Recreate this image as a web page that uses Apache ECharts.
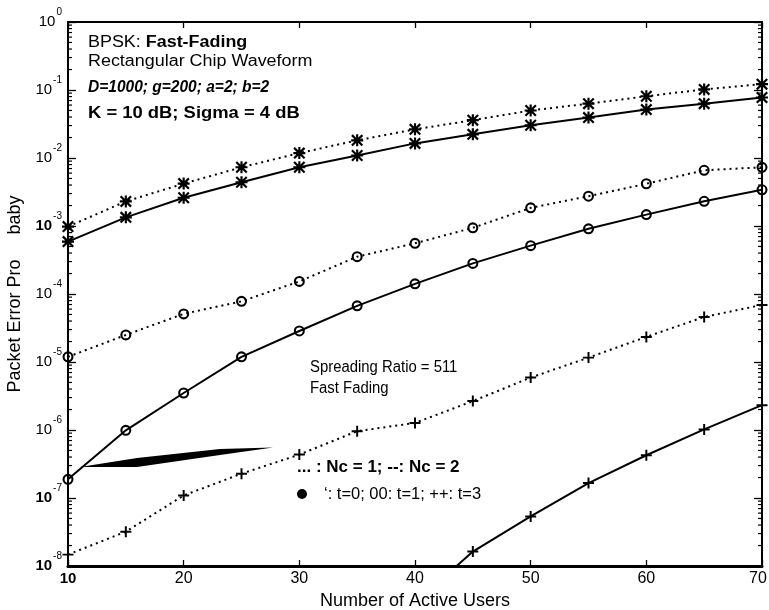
<!DOCTYPE html>
<html>
<head>
<meta charset="utf-8">
<script src="https://cdn.jsdelivr.net/npm/echarts@6/dist/echarts.min.js"></script>
<style>
  html, body { margin: 0; padding: 0; background: #fff; }
  #chart { width: 769px; height: 610px; }
</style>
</head>
<body>
<div id="chart"></div>
<script>
// Number of active users (x) and packet error probability per configuration
const users = [10, 15, 20, 25, 30, 35, 40, 45, 50, 55, 60, 65, 70];

// '**' : t = 0
const nc1T0 = [9.8e-4, 2.3e-3, 4.2e-3, 7.3e-3, 1.18e-2, 1.82e-2, 2.64e-2, 3.6e-2, 5.0e-2, 6.3e-2, 8.1e-2, 1.02e-1, 1.22e-1];
const nc2T0 = [5.9e-4, 1.34e-3, 2.6e-3, 4.4e-3, 7.3e-3, 1.09e-2, 1.64e-2, 2.23e-2, 3.03e-2, 3.93e-2, 5.15e-2, 6.3e-2, 7.75e-2];
// 'oo' : t = 1
const nc1T1 = [1.19e-5, 2.5e-5, 5.1e-5, 7.8e-5, 1.53e-4, 3.54e-4, 5.56e-4, 9.4e-4, 1.85e-3, 2.74e-3, 4.18e-3, 6.6e-3, 7.3e-3];
const nc2T1 = [1.88e-7, 9.9e-7, 3.5e-6, 1.19e-5, 2.86e-5, 6.7e-5, 1.41e-4, 2.82e-4, 5.14e-4, 9.1e-4, 1.47e-3, 2.31e-3, 3.41e-3];
// '++' : t = 3
const nc1T3 = [1.47e-8, 3.2e-8, 1.09e-7, 2.28e-7, 4.35e-7, 9.6e-7, 1.27e-6, 2.66e-6, 5.9e-6, 1.16e-5, 2.34e-5, 4.6e-5, 6.9e-5];
const nc2T3 = [null, null, null, null, null, null, 2.85e-9, 1.63e-8, 5.35e-8, 1.66e-7, 4.25e-7, 1.02e-6, 2.32e-6];

// Axis ticks
const xTicks = [10, 20, 30, 40, 50, 60, 70];
const yMin = 1e-8, yMax = 1;
const boldExponents = [-3, -7, -8];

const FONT = '"Liberation Sans", Arial, sans-serif';

// Marker shapes
const PLUS = 'path://M4.1,0 H5.9 V4.1 H10 V5.9 H5.9 V10 H4.1 V5.9 H0 V4.1 H4.1 Z';
const STAR = 'path://M4.1,0 H5.9 V4.1 H10 V5.9 H5.9 V10 H4.1 V5.9 H0 V4.1 H4.1 Z ' +
             'M1.3,0 L10,8.7 L8.7,10 L0,1.3 Z M8.7,0 L10,1.3 L1.3,10 L0,8.7 Z';
// Open ring (outer clockwise, inner counter-clockwise so the middle stays empty)
const RING = 'path://M0,5 A5,5 0 0 1 10,5 A5,5 0 0 1 0,5 Z ' +
             'M1.9,5 A3.1,3.1 0 0 0 8.1,5 A3.1,3.1 0 0 0 1.9,5 Z';

function pairs(ys) { return users.map((x, i) => [x, ys[i]]); }

function curve(name, ys, dotted, symbol, size) {
  return {
    name, type: 'line', data: pairs(ys),
    symbol, symbolSize: size,
    showAllSymbol: true,
    connectNulls: false,
    clip: true,
    lineStyle: { color: '#000', width: 2, type: dotted ? [2, 4] : 'solid', cap: 'butt' },
    itemStyle: { color: '#000', borderWidth: 0 },
    z: 3,
    animation: false
  };
}

// Minor log ticks (2..9 within every decade) on both vertical edges
const minorTicks = [];
for (let e = -8; e < 0; e++) {
  for (let k = 2; k <= 9; k++) minorTicks.push([10, k * Math.pow(10, e)]);
}

const chart = echarts.init(document.getElementById('chart'), null, { renderer: 'canvas' });

const yLabel = {
  margin: 6,
  padding: [0, 0, 7, 0],
  formatter: v => {
    const e = Math.round(Math.log10(v));
    const b = boldExponents.includes(e) ? 'bb' : 'b';
    return '{' + b + '|10}{s|' + e + '}';
  },
  rich: {
    b:  { fontFamily: FONT, fontSize: 15, color: '#000', lineHeight: 22, verticalAlign: 'bottom' },
    bb: { fontFamily: FONT, fontSize: 15, fontWeight: 'bold', color: '#000', lineHeight: 22, verticalAlign: 'bottom' },
    s:  { fontFamily: FONT, fontSize: 10, color: '#000', lineHeight: 22, verticalAlign: 'top', padding: [0, 0, 0, 1] }
  }
};

function label(x, y, text, opts) {
  return Object.assign({
    type: 'text', x, y, z: 20,
    style: Object.assign({ text, fontFamily: FONT, fontSize: 16, fill: '#000', verticalAlign: 'middle' }, opts.style || {})
  }, opts.el || {});
}

chart.setOption({
  animation: false,
  backgroundColor: '#fff',
  grid: { left: 68, right: 7, top: 22, bottom: 44, containLabel: false, outerBoundsMode: 'none' },
  xAxis: [
    {
      type: 'value', min: 10, max: 70, interval: 10,
      position: 'bottom',
      name: 'Number of Active Users', nameLocation: 'middle', nameGap: 19,
      nameTextStyle: { fontFamily: FONT, fontSize: 18, color: '#000' },
      axisLine: { show: true, onZero: false, lineStyle: { color: '#000', width: 3 } },
      axisTick: { show: true, inside: true, length: 6, lineStyle: { color: '#000', width: 1.3 } },
      axisLabel: {
        margin: 5, fontFamily: FONT, fontSize: 16, color: '#000',
        formatter: v => (v === 10 ? '{bb|10}' : v === 70 ? '{r|70}' : String(v)),
        rich: {
          bb: { fontFamily: FONT, fontSize: 15, fontWeight: 'bold', color: '#000' },
          r: { fontFamily: FONT, fontSize: 16, color: '#000', padding: [0, 8, 0, 0] }
        }
      },
      splitLine: { show: false }
    },
    {
      type: 'value', min: 10, max: 70, interval: 10,
      position: 'top',
      axisLine: { show: true, onZero: false, lineStyle: { color: '#000', width: 2 } },
      axisTick: { show: true, inside: true, length: 6, lineStyle: { color: '#000', width: 1.3 } },
      axisLabel: { show: false },
      splitLine: { show: false }
    }
  ],
  yAxis: [
    {
      type: 'log', logBase: 10, min: yMin, max: yMax,
      position: 'left',
      name: 'Packet Error Pro     baby', nameLocation: 'middle', nameGap: 36, nameRotate: 90,
      nameTextStyle: { fontFamily: FONT, fontSize: 18, color: '#000' },
      axisLine: { show: true, onZero: false, lineStyle: { color: '#000', width: 2 } },
      axisTick: { show: true, inside: true, length: 8, lineStyle: { color: '#000', width: 1.3 } },
      axisLabel: yLabel,
      splitLine: { show: false }
    },
    {
      type: 'log', logBase: 10, min: yMin, max: yMax,
      position: 'right',
      axisLine: { show: true, onZero: false, lineStyle: { color: '#000', width: 2 } },
      axisTick: { show: true, inside: true, length: 8, lineStyle: { color: '#000', width: 1.3 } },
      axisLabel: { show: false },
      splitLine: { show: false }
    }
  ],
  series: [
    {
      type: 'custom', name: 'minor ticks', silent: true, data: minorTicks,
      xAxisIndex: 0, yAxisIndex: 0, clip: false, z: 2,
      renderItem: (params, api) => {
        const v = api.value(1);
        const pl = api.coord([10, v]);
        const pr = api.coord([70, v]);
        const st = { stroke: '#000', lineWidth: 1.2 };
        return {
          type: 'group',
          children: [
            { type: 'line', shape: { x1: pl[0], y1: pl[1], x2: pl[0] + 4, y2: pl[1] }, style: st },
            { type: 'line', shape: { x1: pr[0], y1: pr[1], x2: pr[0] - 4, y2: pr[1] }, style: st }
          ]
        };
      }
    },
    curve('Nc=1, t=0', nc1T0, true, STAR, 12),
    curve('Nc=2, t=0', nc2T0, false, STAR, 12),
    curve('Nc=1, t=1', nc1T1, true, RING, 11),
    curve('Nc=2, t=1', nc2T1, false, RING, 11),
    curve('Nc=1, t=3', nc1T3, true, PLUS, 11),
    curve('Nc=2, t=3', nc2T3, false, PLUS, 11)
  ],
  graphic: [
    {
      type: 'text', x: 88, y: 43, z: 20, scaleX: 1.12,
      style: {
        text: '{n|BPSK: }{b|Fast-Fading}', verticalAlign: 'middle',
        rich: {
          n: { fontFamily: FONT, fontSize: 16, color: '#000' },
          b: { fontFamily: FONT, fontSize: 16, fontWeight: 'bold', color: '#000' }
        }
      }
    },
    label(88, 62, 'Rectangular Chip Waveform', { el: { scaleX: 1.12 } }),
    label(88, 88, 'D=1000; g=200; a=2; b=2', { style: { fontStyle: 'italic', fontWeight: 'bold' }, el: { scaleX: 0.97 } }),
    label(88, 114, 'K = 10 dB; Sigma = 4 dB', { style: { fontWeight: 'bold' }, el: { scaleX: 1.15 } }),
    label(310, 368, 'Spreading Ratio = 511', { el: { scaleX: 0.93 } }),
    label(310, 389, 'Fast Fading', { el: { scaleX: 0.93 } }),
    label(297, 467, '... : Nc = 1; --: Nc = 2', { style: { fontSize: 17, fontWeight: 'bold' } }),
    { type: 'circle', z: 20, shape: { cx: 302, cy: 494, r: 5 }, style: { fill: '#000' } },
    label(324, 495, '\u2018: t=0; 00: t=1; ++: t=3', { style: { fontSize: 16 }, el: { scaleX: 1.03 } }),
    {
      type: 'polygon', z: 10,
      shape: { points: [[80, 467], [137, 458], [220, 449], [273, 447.5], [220, 455], [137, 467]] },
      style: { fill: '#000' }
    }
  ]
});
</script>
</body>
</html>
